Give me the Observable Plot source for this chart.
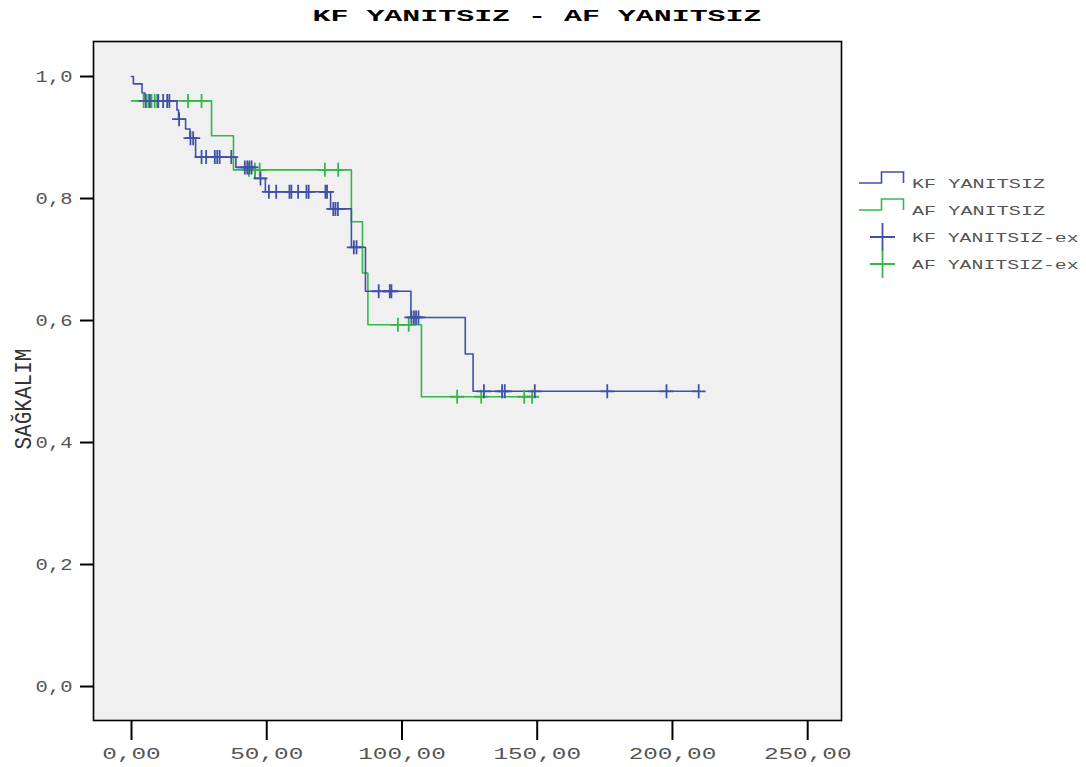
<!DOCTYPE html>
<html>
<head>
<meta charset="utf-8">
<script src="https://cdn.jsdelivr.net/npm/d3@7"></script>
<script src="https://cdn.jsdelivr.net/npm/@observablehq/plot@0.6"></script>
<style>
  body { margin: 0; background: #fff; }
  #wrap { position: relative; width: 1086px; height: 767px; overflow: hidden; background: #fff; }
  #wrap > svg { position: absolute; left: 0; top: 0; }
</style>
</head>
<body>
<div id="wrap"></div>
<script>
// ---- Data ----
const chartTitle = "KF YANITSIZ - AF YANITSIZ";
const yLabel = "SAĞKALIM";
const seriesNames = ["KF YANITSIZ", "AF YANITSIZ"];
const censorNames = ["KF YANITSIZ-ex", "AF YANITSIZ-ex"];

// KF YANITSIZ: step times and survival after each step
const kfTimes = [0, 0.7, 3.9, 5.0, 16.8, 17.4, 20.0, 21.6, 23.7, 38.6, 45.6, 49.5, 73.6, 81.3, 86.5, 103.3, 123.4, 126.3];
const kfSurv  = [1.0, 0.988, 0.973, 0.960, 0.945, 0.930, 0.914, 0.899, 0.868, 0.851, 0.833, 0.811, 0.783, 0.720, 0.648, 0.605, 0.545, 0.484];
const kfCensored = [5.3, 6.8, 9.9, 11.7, 13.2, 14.0, 17.6, 21.8, 22.8, 25.9, 27.6, 30.8, 31.7, 32.6, 36.9,
  41.9, 42.8, 43.6, 44.4, 47.7, 50.8, 53.5, 58.4, 59.1, 61.6, 64.7, 65.5, 71.7, 72.3, 74.6, 75.4, 76.3,
  82.2, 83.2, 91.4, 95.5, 96.1, 103.5, 104.4, 105.2, 106.1, 130.3, 137.0, 138.0, 149.1, 175.9, 197.8, 209.7];

// AF YANITSIZ
const afTimes = [0, 29.6, 37.7, 81.3, 85.4, 87.4, 107.2];
const afSurv  = [0.960, 0.903, 0.847, 0.762, 0.678, 0.593, 0.475];
const afCensored = [4.5, 6.2, 7.4, 8.6, 9.5, 20.9, 25.9, 43.4, 45.6, 47.4, 71.5, 76.4, 98.5, 102.5,
  120.4, 129.3, 145.2, 148.1];

const xTicks = [0, 50, 100, 150, 200, 250];
const yTicks = [0, 0.2, 0.4, 0.6, 0.8, 1.0];

const colors = ["#3f51a6", "#35b84a"];

// ---- Build tables ----
function stepAt(times, surv, t) {
  let s = surv[0];
  for (let i = 0; i < times.length; i++) if (times[i] <= t) s = surv[i];
  return s;
}
function curve(times, surv, cens, name) {
  const rows = times.map((t, i) => ({t, s: surv[i], name}));
  const end = d3.max(cens);
  rows.push({t: end, s: stepAt(times, surv, end), name});
  return rows;
}
function censors(times, surv, cens, name) {
  return cens.map(t => ({t, s: stepAt(times, surv, t), name}));
}
const kfLine = curve(kfTimes, kfSurv, kfCensored, seriesNames[0]);
const afLine = curve(afTimes, afSurv, afCensored, seriesNames[1]);
const kfCens = censors(kfTimes, kfSurv, kfCensored, censorNames[0]);
const afCens = censors(afTimes, afSurv, afCensored, censorNames[1]);

const cross = {
  draw(context, size) {
    const r = Math.sqrt(size / Math.PI);
    context.moveTo(-r, 0); context.lineTo(r, 0);
    context.moveTo(0, -r); context.lineTo(0, r);
  }
};

const fmtX = d => d.toFixed(2).replace(".", ",");
const fmtY = d => d.toFixed(1).replace(".", ",");

const plot = Plot.plot({
  width: 1086,
  height: 767,
  marginLeft: 93,
  marginRight: 245,
  marginTop: 41,
  marginBottom: 47,
  style: {fontFamily: "'Liberation Mono', monospace", fontSize: "16px", color: "#444", background: "transparent", overflow: "visible"},
  x: {domain: [-14.05, 262.5]},
  y: {domain: [-0.0557, 1.0574]},
  marks: [
    Plot.frame({fill: "#f0f0f0", stroke: null}),
    Plot.axisX({ticks: xTicks, tickFormat: fmtX, tickSize: 20, tickPadding: 7, label: null, stroke: "#000", strokeWidth: 2, fill: "#555"}),
    Plot.axisY({ticks: yTicks, tickFormat: fmtY, tickSize: 13, tickPadding: 8, label: null, stroke: "#000", strokeWidth: 2, fill: "#555"}),
    Plot.line(afLine, {x: "t", y: "s", curve: "step-after", stroke: colors[1], strokeWidth: 1.6}),
    Plot.line(kfLine, {x: "t", y: "s", curve: "step-after", stroke: colors[0], strokeWidth: 1.6}),
    Plot.dot(afCens, {x: "t", y: "s", symbol: cross, r: 7, stroke: colors[1], strokeWidth: 1.8, fill: "none"}),
    Plot.dot(kfCens, {x: "t", y: "s", symbol: cross, r: 7, stroke: colors[0], strokeWidth: 1.8, fill: "none"}),
    Plot.frame({stroke: "#000", strokeWidth: 1.6})
  ]
});

const wrap = document.getElementById("wrap");
wrap.appendChild(plot);

// stretch the tick labels like the reference (wide monospace glyphs)
d3.select(plot).selectAll('g[aria-label="x-axis tick label"] text')
  .each(function() {
    this.setAttribute("textLength", this.textContent.length * 14.6);
    this.setAttribute("lengthAdjust", "spacingAndGlyphs");
  });
d3.select(plot).selectAll('g[aria-label="y-axis tick label"] text')
  .each(function() {
    this.setAttribute("textLength", this.textContent.length * 12.3);
    this.setAttribute("lengthAdjust", "spacingAndGlyphs");
  });

// ---- Overlay: title, y label, legend ----
const ov = d3.select(wrap).append("svg").attr("width", 1086).attr("height", 767)
  .style("pointer-events", "none");
ov.append("text").attr("x", 537).attr("y", 20.5).attr("text-anchor", "middle")
  .attr("font-family", "'Liberation Mono', monospace").attr("font-weight", "bold").attr("font-size", 16)
  .attr("textLength", 449).attr("lengthAdjust", "spacingAndGlyphs").attr("fill", "#000").text(chartTitle);

ov.append("text").attr("transform", "translate(31,399) rotate(-90)").attr("text-anchor", "middle")
  .attr("font-family", "'Liberation Mono', monospace").attr("font-size", 24).attr("fill", "#333")
  .attr("textLength", 101).attr("lengthAdjust", "spacingAndGlyphs").text(yLabel);

const lg = ov.append("g");
const rowsY = [183, 210, 237, 264];
seriesNames.forEach((name, i) => {
  const y = rowsY[i];
  lg.append("path").attr("d", `M859,${y}H881.5V${y - 11}H903.5V${y}`)
    .attr("fill", "none").attr("stroke", colors[i]).attr("stroke-width", 1.6);
  lg.append("text").attr("x", 912).attr("y", y + 4.5)
    .attr("font-family", "'Liberation Mono', monospace").attr("font-size", 13).attr("fill", "#555")
    .attr("textLength", name.length * 12.1).attr("lengthAdjust", "spacingAndGlyphs").text(name);
});
censorNames.forEach((name, i) => {
  const y = rowsY[i + 2];
  lg.append("path").attr("d", `M870,${y}H895M882.5,${y - 14}V${y + 14}`)
    .attr("fill", "none").attr("stroke", colors[i]).attr("stroke-width", 1.8);
  lg.append("text").attr("x", 912).attr("y", y + 4.5)
    .attr("font-family", "'Liberation Mono', monospace").attr("font-size", 13).attr("fill", "#555")
    .attr("textLength", name.length * 11.9).attr("lengthAdjust", "spacingAndGlyphs").text(name);
});
</script>
</body>
</html>
